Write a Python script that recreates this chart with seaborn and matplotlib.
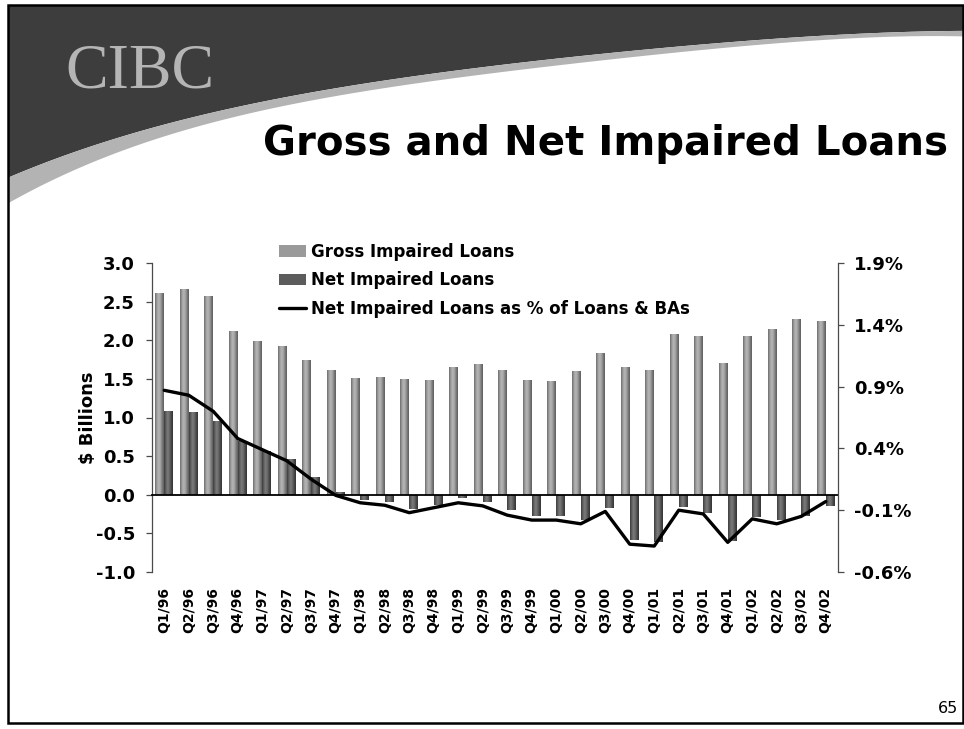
import numpy as np
import pandas as pd
import matplotlib
matplotlib.use("Agg")
import matplotlib.pyplot as plt
from matplotlib.colors import LinearSegmentedColormap, to_rgba
from matplotlib.patches import Patch, Rectangle
from matplotlib.lines import Line2D
import seaborn as sns

# ---- data ($ billions, and % of loans & BAs) ----
quarters = ["Q1/96", "Q2/96", "Q3/96", "Q4/96",
            "Q1/97", "Q2/97", "Q3/97", "Q4/97",
            "Q1/98", "Q2/98", "Q3/98", "Q4/98",
            "Q1/99", "Q2/99", "Q3/99", "Q4/99",
            "Q1/00", "Q2/00", "Q3/00", "Q4/00",
            "Q1/01", "Q2/01", "Q3/01", "Q4/01",
            "Q1/02", "Q2/02", "Q3/02", "Q4/02"]
gross_impaired = [2.61, 2.66, 2.57, 2.12,
                  1.99, 1.93, 1.75, 1.62,
                  1.51, 1.52, 1.50, 1.48,
                  1.66, 1.69, 1.62, 1.48,
                  1.47, 1.60, 1.83, 1.66,
                  1.61, 2.08, 2.06, 1.70,
                  2.06, 2.14, 2.28, 2.25]
net_impaired = [1.09, 1.07, 0.96, 0.69,
                0.57, 0.46, 0.23, 0.03,
                -0.07, -0.10, -0.19, -0.13,
                -0.04, -0.09, -0.20, -0.27,
                -0.28, -0.33, -0.17, -0.58,
                -0.61, -0.16, -0.23, -0.60,
                -0.29, -0.33, -0.28, -0.14]
net_pct_loans = [0.87, 0.83, 0.70, 0.48,
                 0.39, 0.30, 0.15, 0.02,
                 -0.04, -0.06, -0.12, -0.08,
                 -0.04, -0.065, -0.14, -0.18,
                 -0.18, -0.21, -0.11, -0.375,
                 -0.39, -0.10, -0.13, -0.36,
                 -0.17, -0.21, -0.15, -0.03]

left_ticks = [-1.0, -0.5, 0.0, 0.5, 1.0, 1.5, 2.0, 2.5, 3.0]
right_ticks = [-0.6, -0.1, 0.4, 0.9, 1.4, 1.9]

gross_label = "Gross Impaired Loans"
net_label = "Net Impaired Loans"
pct_label = "Net Impaired Loans as % of Loans & BAs"

df = pd.DataFrame({
    "Quarter": quarters * 2,
    "Series": [gross_label] * len(quarters) + [net_label] * len(quarters),
    "Value": gross_impaired + net_impaired,
})

sns.set_style("white")
plt.rcParams["font.family"] = ["DejaVu Sans"]
plt.rcParams["font.weight"] = "bold"
plt.rcParams["axes.labelweight"] = "bold"
for key in ["text.color", "axes.labelcolor", "xtick.color", "ytick.color"]:
    plt.rcParams[key] = "black"

W, H = 964, 729
fig = plt.figure(figsize=(W / 100, H / 100), dpi=100)
fig.patch.set_facecolor("white")

# ---- slide background: dark swoosh with light band ----
bg = fig.add_axes([0, 0, 1, 1], zorder=-5)
bg.set_xlim(0, W)
bg.set_ylim(H, 0)
bg.axis("off")
cx = np.array([8, 100, 200, 300, 400, 500, 600, 700, 800, 900, 963])
edge_dark = np.array([178, 140, 117, 94, 78, 64, 53, 44, 37, 32, 30])
edge_band = np.array([204, 155, 127, 103, 86, 71, 59, 49, 42, 37, 35])
xs = np.linspace(8, 963, 600)
yd = np.polyval(np.polyfit(cx, edge_dark, 4), xs)
yb = np.polyval(np.polyfit(cx, edge_band, 4), xs)
bg.fill_between(xs, 5, yd, color="#3d3d3d", lw=0)
bg.fill_between(xs, yd, yb, color="#b3b3b3", lw=0)

fig.text(65 / W, 1 - 87 / H, "CIBC", fontsize=46, family="Liberation Serif",
         weight="normal", color="#b5b5b5", ha="left", va="baseline")
fig.text(948 / W, 1 - 155 / H, "Gross and Net Impaired Loans", fontsize=29,
         weight="bold", color="black", ha="right", va="baseline")
fig.text(958 / W, 1 - 713 / H, "65", fontsize=11.5, weight="normal",
         color="black", ha="right", va="baseline")
fig.add_artist(Rectangle((8 / W, 1 - 723 / H), (963 - 8) / W, (723 - 5) / H,
                         transform=fig.transFigure, fill=False,
                         edgecolor="black", lw=1.8))

# ---- chart ----
ax = fig.add_axes([152 / W, 1 - 572 / H, (838 - 152) / W, (572 - 263) / H])
ax.set_facecolor("none")
gross_col, net_col = "#9a9a9a", "#5c5c5c"
sns.barplot(data=df, x="Quarter", y="Value", hue="Series",
            hue_order=[gross_label, net_label], palette=[gross_col, net_col],
            width=0.72, gap=0, linewidth=0, errorbar=None, legend=False, ax=ax)

# cylinder-like shading on every bar
cm_gross = LinearSegmentedColormap.from_list(
    "gross", ["#6c6c6c", "#9c9c9c", "#b6b6b6", "#a6a6a6", "#7c7c7c", "#5e5e5e"])
cm_net = LinearSegmentedColormap.from_list(
    "net", ["#3c3c3c", "#5e5e5e", "#7c7c7c", "#6a6a6a", "#4a4a4a", "#343434"])
ramp = np.linspace(0, 1, 64)[None, :]
gross_rgba = to_rgba(gross_col)
for bar in list(ax.patches):
    x0, y0 = bar.get_x(), bar.get_y()
    w, h = bar.get_width(), bar.get_height()
    if w == 0 or h == 0:
        continue
    cmap = cm_gross if np.allclose(bar.get_facecolor(), gross_rgba) else cm_net
    im = ax.imshow(ramp, cmap=cmap, aspect="auto", interpolation="bilinear",
                   extent=[x0, x0 + w, min(y0, y0 + h), max(y0, y0 + h)],
                   zorder=bar.get_zorder() + 0.1)
    im.set_clip_path(bar)

n = len(quarters)
ax.set_xlim(-0.5, n - 0.5)
ax.set_ylim(left_ticks[0], left_ticks[-1])
ax.set_yticks(left_ticks)
ax.set_yticklabels([f"{v:.1f}" for v in left_ticks])
ax.set_xlabel("")
ax.set_ylabel("$ Billions", fontsize=13, fontweight="bold")
ax.yaxis.set_label_coords(-0.080, 0.5)

spine_col = "#4a4a4a"
for s in ["top", "right"]:
    ax.spines[s].set_visible(False)
ax.spines["left"].set_color(spine_col)
ax.spines["left"].set_linewidth(0.9)
ax.spines["bottom"].set_position(("data", 0))
ax.spines["bottom"].set_color("black")
ax.spines["bottom"].set_linewidth(1.3)
ax.spines["bottom"].set_zorder(5)
ax.set_xticks(np.arange(0.5, n - 1, 1.0))
ax.tick_params(axis="x", direction="out", length=3.8, width=0.9,
               color=spine_col, labelbottom=False)
ax.tick_params(axis="y", direction="out", length=4.3, width=0.9,
               color=spine_col, labelcolor="black", labelsize=13, pad=8)

# quarter labels below the plot area
sec = ax.secondary_xaxis("bottom")
sec.set_xticks(np.arange(n))
sec.set_xticklabels(quarters, rotation=90, fontsize=10, fontweight="bold",
                    color="black")
sec.tick_params(length=0, pad=11)
sec.spines["bottom"].set_visible(False)

# ratio line on the right axis
ax2 = ax.twinx()
sns.lineplot(x=np.arange(n), y=net_pct_loans, color="black", lw=2.4, ax=ax2)
ax2.set_ylim(right_ticks[0], right_ticks[-1])
ax2.set_yticks(right_ticks)
ax2.set_yticklabels([f"{v:.1f}%" for v in right_ticks])
for s in ["top", "left", "bottom"]:
    ax2.spines[s].set_visible(False)
ax2.spines["right"].set_color(spine_col)
ax2.spines["right"].set_linewidth(0.9)
ax2.tick_params(axis="y", direction="out", length=4.3, width=0.9,
                color=spine_col, labelcolor="black", labelsize=13, pad=7)
ax.set_xlim(-0.5, n - 0.5)

handles = [Patch(facecolor=gross_col, edgecolor="none"),
           Patch(facecolor=net_col, edgecolor="none"),
           Line2D([0], [0], color="black", lw=2.4)]
leg = ax2.legend(handles, [gross_label, net_label, pct_label], loc="upper left",
                 bbox_to_anchor=(279 / W, 1 - 243 / H),
                 bbox_transform=fig.transFigure, frameon=False, fontsize=12,
                 handlelength=1.6, handleheight=0.7, handletextpad=0.3,
                 labelspacing=0.62, borderpad=0, borderaxespad=0)
for t in leg.get_texts():
    t.set_color("black")

fig.savefig("out.png", dpi=100)
